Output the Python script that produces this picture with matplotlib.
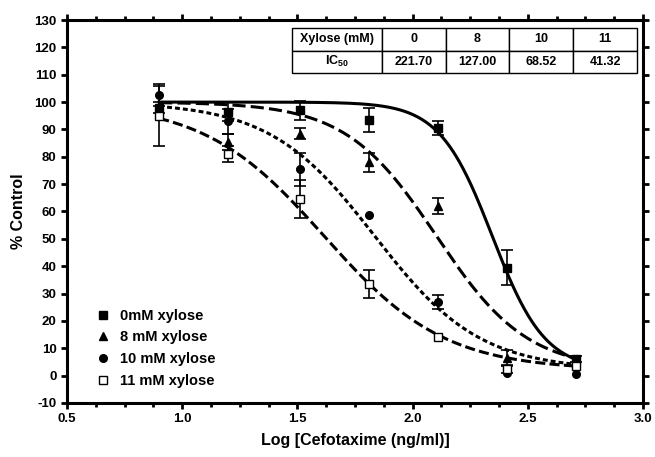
import numpy as np
import matplotlib
matplotlib.use("Agg")
import matplotlib.pyplot as plt
from matplotlib.ticker import MultipleLocator

plt.rcParams['font.family'] = ['Liberation Sans', 'DejaVu Sans']
plt.rcParams['font.weight'] = 'bold'
plt.rcParams['axes.unicode_minus'] = False
plt.rcParams['mathtext.fontset'] = 'custom'
plt.rcParams['mathtext.bf'] = 'Liberation Sans:bold'
plt.rcParams['mathtext.rm'] = 'Liberation Sans:bold'

# log concentration of cefotaxime (ng/ml)
log_conc = [0.90, 1.20, 1.51, 1.81, 2.11, 2.41, 2.71]

labels = ["0mM xylose", "8 mM xylose", "10 mM xylose", "11 mM xylose"]
xylose = ["0", "8", "10", "11"]
ic50 = [221.70, 127.00, 68.52, 41.32]

# % control
y0 = [98.0, 96.5, 97.0, 93.5, 90.5, 39.5, 6.0]
e0 = [2.0, 3.5, 3.5, 4.5, 2.5, 6.5, 1.0]
y8 = [97.0, 85.5, 88.5, 78.0, 62.0, 6.5, 4.5]
e8 = [np.nan, 3.0, 2.0, 3.5, 3.0, 3.0, np.nan]
y10 = [102.5, 93.0, 75.5, 58.7, 27.0, 1.0, 0.5]
e10 = [4.0, 4.5, 6.0, np.nan, 2.5, np.nan, np.nan]
y11 = [95.0, 81.0, 64.5, 33.5, 14.0, 2.5, 3.5]
e11 = [11.0, 3.0, 7.0, 5.0, np.nan, 1.5, np.nan]

# fitted logistic curve parameters (estimated from the drawn curves)
top = [100, 100, 100, 100]
bottom = [2, 2, 2, 2]
hill = [3.8, 2.2, 1.9, 1.66]

series = [(y0, e0), (y8, e8), (y10, e10), (y11, e11)]
markers = ['s', '^', 'o', 's']
faces = ['black', 'black', 'black', 'white']
styles = ['-', (0, (4.3, 1.7)), (0, (1.6, 1.0)), (0, (3.3, 1.4))]

fig = plt.figure(figsize=(6.55, 4.57), dpi=100)
ax = fig.add_axes([0.1023, 0.1182, 0.8794, 0.838])

xs = np.linspace(0.9, 2.71, 300)
for i in range(4):
    c = np.log10(ic50[i])
    fit = bottom[i] + (top[i] - bottom[i]) / (1 + 10 ** (hill[i] * (xs - c)))
    ax.plot(xs, fit, color='black', lw=2.2, linestyle=styles[i], zorder=2)

handles = []
for i, (y, e) in enumerate(series):
    ax.errorbar(log_conc, y, yerr=e, fmt='none', ecolor='black',
                elinewidth=1.2, capsize=4, capthick=1.2, zorder=3)
    h, = ax.plot(log_conc, y, linestyle='none', marker=markers[i], ms=5.5,
                 mfc=faces[i], mec='black', mew=1.0, zorder=4)
    handles.append(h)

ax.set_xlim(0.5, 3.0)
ax.set_ylim(-10, 130)
ax.xaxis.set_major_locator(MultipleLocator(0.5))
ax.xaxis.set_minor_locator(MultipleLocator(0.125))
ax.yaxis.set_major_locator(MultipleLocator(10))
ax.xaxis.set_major_formatter(matplotlib.ticker.FormatStrFormatter('%.1f'))

for s in ax.spines.values():
    s.set_linewidth(2.2)
ax.tick_params(which='both', direction='out', width=2, top=True, right=True,
               labelsize=9.5)
ax.tick_params(which='major', length=4)
ax.tick_params(which='minor', length=3)
ax.tick_params(axis='x', pad=3)

ax.set_xlabel("Log [Cefotaxime (ng/ml)]", fontsize=11.5, fontweight='bold', labelpad=6)
ax.set_ylabel("% Control", fontsize=11.5, fontweight='bold', labelpad=6)

leg = ax.legend(handles, labels, loc='lower left', bbox_to_anchor=(0.052, 0.04),
                frameon=False, fontsize=10.5, handlelength=0.8, handletextpad=0.8,
                labelspacing=0.52, borderpad=0, borderaxespad=0)

# IC50 table
cells = [["Xylose (mM)"] + xylose,
         [r"IC$_{\mathbf{50}}$"] + ["%.2f" % v for v in ic50]]
tab = ax.table(cellText=cells, cellLoc='center',
               colWidths=[90, 64, 63, 64, 64],
               bbox=[0.3906, 0.8616, 0.599, 0.1175], zorder=5)
tab.auto_set_font_size(False)
for (r, c), cell in tab.get_celld().items():
    cell.set_linewidth(1.0)
    cell.set_edgecolor('black')
    cell.get_text().set_fontsize(9)
    cell.get_text().set_fontweight('bold')

fig.savefig("out.png", dpi=100)
